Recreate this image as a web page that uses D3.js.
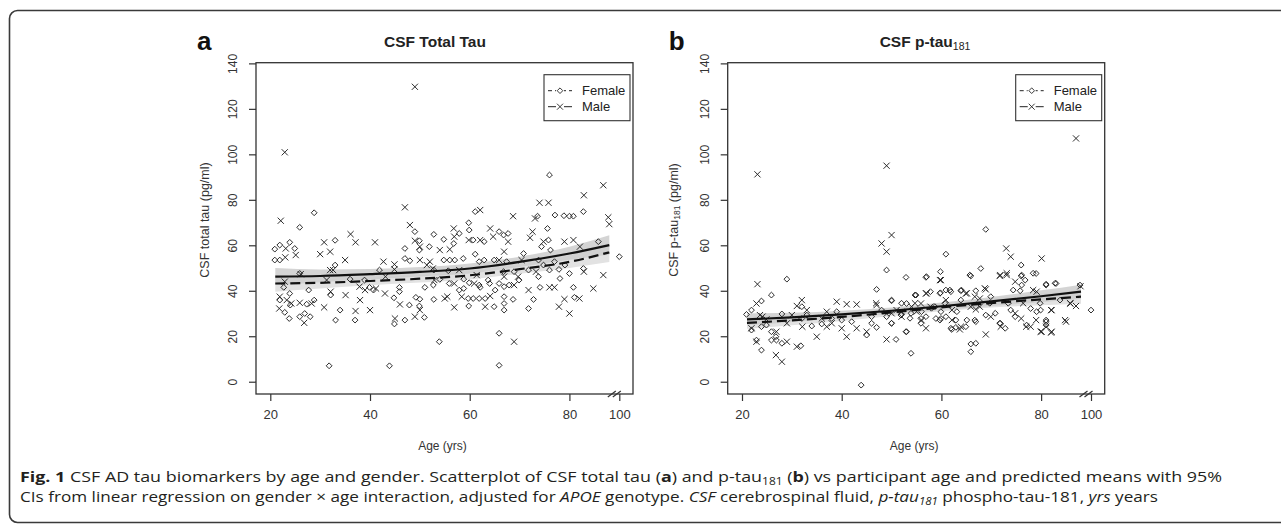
<!DOCTYPE html>
<html>
<head>
<meta charset="utf-8">
<script src="https://cdn.jsdelivr.net/npm/d3@7"></script>
<style>
body { margin: 0; background: #fff; }
svg { display: block; font-family: "Liberation Sans", Arial, sans-serif; }
</style>
</head>
<body>
<svg width="1281" height="525"></svg>
<script>
const ageTicks = [20, 40, 60, 80, 100];
const valueTicks = [0, 20, 40, 60, 80, 100, 120, 140];
const sexLabels = ["Female", "Male"];

// [age, value]
const totalTauFemale = [[20.9,58.3],[20.9,53.5],[21.9,60.1],[21.9,53.5],[23.9,61.3],[24.9,58.6],[25.9,67.9],[22.7,41.5],[21.9,35.9],[22.9,30.5],[23.8,27.8],[23.9,38.8],[24.0,33.7],[25.9,28.6],[25.9,47.6],[26.9,30],[27.3,34.1],[28.0,28.6],[27.7,40.3],[28.8,74.3],[28.8,35.9],[31.8,7.0],[32.1,38.1],[33.0,62.2],[33.0,51.3],[33.1,27.1],[34.0,31.5],[36.0,45.1],[37.0,27.1],[38.9,44.7],[39.9,41.5],[40.7,40.3],[41.9,49.1],[43.9,7.0],[44.8,36.9],[44.9,25.4],[45.9,41.5],[45.9,39.6],[47.0,58.6],[47.0,54.2],[47.0,27.1],[48.0,53.2],[47.9,33.7],[49.0,66.0],[49.2,37.1],[49.9,62.0],[49.9,57.9],[50.0,36.3],[49.9,33.3],[50.9,28.3],[51.0,41.5],[51.9,59.4],[52.8,64.8],[52.8,49.1],[52.8,36.2],[52.7,42.5],[53.9,17.6],[54.0,45.0],[54.8,62.6],[54.8,53.5],[55.7,48.8],[55.9,43.2],[56.0,53.5],[56.8,60.8],[57.0,53.5],[57.9,65.2],[57.9,40.3],[58.7,54.2],[58.8,45.1],[58.8,41.0],[59.8,69.9],[59.9,66.7],[59.7,36.6],[59.8,33.3],[59.9,43.5],[60.7,62.3],[60.7,36.6],[61.1,74.8],[61.1,56.1],[61.9,52.8],[61.9,42.5],[62.1,41.5],[61.9,36.6],[62.9,61.6],[62.9,53.5],[63.1,36.6],[63.7,44.7],[64.0,43.2],[64.9,33.0],[64.9,53.5],[65.1,40.3],[65.9,66.0],[65.9,21.3],[65.9,7.2],[65.9,43.2],[66.8,64.5],[66.8,48.4],[66.9,41.8],[66.9,37.4],[66.9,34.4],[66.9,31.5],[67.4,52.8],[67.7,65.2],[67.9,42.5],[68.7,36.2],[68.9,48.4],[69.9,44.7],[70.8,56.4],[71.8,32.2],[71.8,49.1],[72.8,36.2],[73.6,72.8],[73.8,53.5],[74.1,41.5],[73.8,46.2],[74.4,59.4],[74.8,51.3],[75.6,67.4],[75.8,62.3],[76.0,49.1],[76.2,57.9],[77.1,73.3],[77.0,52.8],[78.1,45.4],[77.9,49.4],[78.9,73.0],[79.1,51.3],[80.0,72.8],[80.0,47.6],[80.8,72.8],[80.8,41.5],[81.0,37.1],[82.8,74.8],[82.8,49.8],[85.8,61.6],[100,55.0],[76.0,90.9]];
const totalTauMale = [[22.1,70.8],[23.1,58.6],[23.0,54.7],[25.1,55.7],[22.9,44],[21.9,37.4],[21.8,32.2],[23.3,35.9],[24.2,34.4],[25.9,34.7],[26.1,47.3],[26.8,25.9],[28.3,34.4],[30.0,56.1],[30.8,61.3],[30.8,32.7],[32.0,57.2],[32.0,49.1],[32.1,39.6],[31.3,44.7],[32.6,49.1],[35.0,53.5],[35.1,38.1],[36.1,64.9],[37.1,61.3],[37.1,31.1],[38.0,35.9],[37.9,41.8],[39.0,40.3],[40.0,31.5],[41.0,61.3],[41.2,41.0],[42.7,52.8],[43.0,38.8],[43.1,46.2],[44.9,51.6],[44.9,49.4],[45.0,27.8],[46.0,34.0],[47.0,76.7],[48.0,68.9],[49.0,62.0],[49.0,28.6],[50.0,59.4],[50.0,53.5],[50.0,31.5],[51.4,51.3],[52.0,52.8],[52.6,49.8],[52.9,44.7],[54.0,57.9],[55.0,36.6],[55.5,37.4],[56.0,58.2],[56.8,67.4],[56.9,43.2],[56.9,32.7],[56.9,63.8],[57.9,49.1],[58.4,37.4],[59.8,62.3],[60.9,43.2],[62.1,75.5],[61.4,46.9],[62.1,62.3],[63.1,33.0],[64.1,67.4],[64.1,37.7],[64.7,63.8],[65.9,53.5],[66.9,57.2],[66.9,46.2],[67.7,61.6],[68.7,72.8],[68.9,42.5],[68.9,17.6],[69.7,46.2],[70.4,53.5],[71.8,40.3],[72.1,63.3],[72.6,66.0],[73.1,71.8],[73.3,48.4],[74.0,78.7],[74.8,61.6],[75.8,78.7],[76.0,41.5],[77.0,41.5],[77.9,33.0],[79.0,61.6],[79.0,36.3],[80.0,30.0],[80.8,62.3],[82.0,36.6],[82.1,59.4],[82.9,48.4],[84.8,41.0],[86.8,46.9],[87.8,72.3],[88.0,69.3],[22.9,100.9],[49.0,129.7],[86.8,86.4],[82.9,82.0]];

// [age, value]
const ptauFemale = [[20.9,29.6],[21.9,31.5],[21.9,22.7],[22.9,18.3],[23.9,35.5],[23.9,13.9],[23.9,24.2],[24.9,24.9],[25.9,38.1],[25.9,22.0],[25.9,18.3],[26.8,19.8],[26.9,18.3],[28.0,16.9],[28.0,29.8],[29.0,45.1],[31.8,15.8],[32.0,33.0],[32.0,27.8],[33.0,29.3],[34.0,24.5],[36.0,25.4],[38.0,27.8],[39.0,30.8],[40.0,27.1],[42.0,26.4],[43.9,-1.5],[45.0,20.5],[46.0,25.7],[46.0,28.6],[47.0,40.6],[47.0,23.9],[48.0,31.5],[49.0,49.1],[49.0,28.6],[50.0,35.9],[50.0,25.7],[50.9,18.6],[51.9,29.3],[52.9,45.9],[52.9,22.0],[53.0,34.4],[53.9,12.5],[53.9,30.1],[54.9,38.1],[55.9,25.7],[55.9,27.8],[56.9,45.9],[56.9,28.6],[57.8,39.6],[58.7,33.0],[58.9,27.8],[59.8,48.4],[59.8,39.1],[59.9,27.8],[59.9,30.8],[60.9,56.1],[60.9,40.3],[60.9,28.6],[61.9,39.6],[61.9,23.5],[62.9,27.1],[62.9,23.9],[63.9,40.0],[63.9,35.9],[64.9,24.2],[65.9,46.5],[65.9,16.6],[65.9,13.2],[66.9,16.9],[66.9,40.0],[66.9,26.4],[67.9,49.8],[68.9,67.0],[68.9,29.3],[69.9,37.4],[71.7,25.7],[72.8,23.5],[73.9,31.5],[74.8,28.6],[75.8,40.0],[76.0,51.3],[76.0,46.5],[76.8,44.7],[77.9,32.2],[79.0,47.6],[79.9,31.5],[81.0,42.9],[81.0,26.4],[83.0,43.2],[100,31.5],
    [50.0,35.6],[50.0,25.7],[52.0,34.5],[53.0,22.0],[53.7,27.9],[54.7,38.1],[56.0,30.8],[57.0,46.2],[58.0,32.3],[59.7,38.9],[59.7,27.1],[60.7,34.5],[61.7,40.3],[62.1,23.0],[63.1,30.8],[64.0,40.3],[65.1,27.1],[65.7,46.9],[66.7,27.1],[69.7,34.5],[70.8,30.1],[71.8,25.7],[73.4,34.5],[74.4,40.3],[76.1,46.9],[76.1,42.5],[77.1,24.9],[78.4,47.7],[79.1,30.8],[79.8,34.5],[81.0,42.5],[81.0,27.1],[81.0,24.9],[82.8,43.3],[83.8,35.9],[87.8,42.5]];
const ptauMale = [[23.1,42.9],[21.9,23.5],[22.9,34.4],[22.9,17.6],[24.1,28.6],[23.6,29.3],[24.9,27.4],[26.8,11.7],[26.9,22.0],[28.0,8.8],[29.0,25.7],[29.0,17.6],[30.0,29.3],[31.0,15.4],[31.0,33.3],[32.0,35.9],[32.1,24.2],[33.0,31.5],[35.0,19.8],[36.0,27.8],[37.0,24.2],[37.0,30.8],[38.0,25.7],[39.0,35.2],[40.0,23.5],[41.0,34.1],[41.0,19.8],[43.0,34.0],[43.0,23.5],[45.0,22.0],[47.0,33.7],[48.0,60.8],[49.0,57.2],[49.0,18.6],[50.0,64.5],[50.0,30.1],[51.0,31.5],[52.0,30.8],[54.0,33.0],[55.0,30.8],[55.9,34.4],[56.9,38.8],[56.9,23.5],[57.8,33.0],[59.9,44.7],[60.9,35.9],[62.1,31.5],[63.9,24.2],[64.9,38.8],[65.9,33.0],[66.9,31.8],[67.7,36.6],[68.9,40.6],[68.9,20.8],[69.9,28.6],[71.7,46.5],[71.9,24.2],[73.0,58.6],[73.1,46.9],[73.9,55.0],[74.8,44.0],[76.0,27.8],[77.0,24.2],[77.9,24.2],[79.0,27.1],[79.1,39.6],[80.1,54.2],[79.9,22.0],[81.0,24.2],[82.0,21.6],[82.0,31.5],[85.0,26.4],[85.9,34.4],[87.0,33.3],[87.9,42.0],[23.1,91.2],[49.0,95.0],[87.0,107.0],
    [46.9,34.5],[52.0,28.6],[54.7,34.5],[56.0,27.1],[57.0,38.9],[59.7,44.7],[62.1,27.1],[63.7,23.0],[65.1,38.9],[66.7,37.4],[67.7,33.0],[68.7,41.1],[71.8,46.9],[73.1,47.7],[74.8,30.1],[76.4,34.5],[78.4,40.3],[80.1,22.0],[82.1,31.5],[82.1,22.0],[84.8,27.1],[85.8,34.5]];

// predicted means and 95% CI
const fitAges = [21, 30, 40, 50, 60, 70, 80, 88];
const totalTauFitMale = [46.2, 46.5, 47.3, 48.3, 49.8, 52.7, 56.4, 60.1];
const totalTauLoMale  = [42.5, 43.8, 45.0, 46.3, 47.6, 50.5, 53.6, 56.0];
const totalTauHiMale  = [50.0, 49.4, 49.6, 50.4, 52.0, 55.0, 59.4, 64.4];
const totalTauFitFemale = [43.2, 43.5, 44.3, 45.3, 46.8, 49.5, 52.7, 56.9];
const totalTauLoFemale  = [39.6, 41.0, 42.4, 43.6, 45.0, 47.5, 50.0, 52.6];
const totalTauHiFemale  = [46.8, 46.1, 46.2, 47.0, 48.7, 51.6, 55.5, 61.2];
const ptauFitMale = [27.4, 28.3, 29.6, 31.2, 33.2, 35.3, 37.6, 39.6];
const ptauLoMale  = [24.8, 26.3, 28.0, 29.8, 31.6, 33.3, 35.0, 36.5];
const ptauHiMale  = [30.0, 30.3, 31.2, 32.6, 34.8, 37.3, 40.2, 42.7];
const ptauFitFemale = [25.9, 27.0, 28.5, 30.5, 32.7, 34.6, 36.2, 37.4];
const ptauLoFemale  = [23.3, 24.8, 26.7, 28.9, 31.0, 32.6, 33.6, 34.3];
const ptauHiFemale  = [28.5, 29.2, 30.3, 32.1, 34.4, 36.6, 38.8, 40.5];

const svg = d3.select("svg");

// outer frame of the figure card
svg.append("rect")
    .attr("x", 9.5).attr("y", 10.5)
    .attr("width", 1320).attr("height", 512)
    .attr("rx", 8)
    .attr("fill", "none")
    .attr("stroke", "#3a3a3a")
    .attr("stroke-width", 1.6);

drawPanel({
    dx: 0, letter: "a", title: ["CSF Total Tau", ""],
    ytitle: ["CSF total tau ", "", "(pg/ml)"],
    female: totalTauFemale, male: totalTauMale,
    fitF: totalTauFitFemale, loF: totalTauLoFemale, hiF: totalTauHiFemale,
    fitM: totalTauFitMale, loM: totalTauLoMale, hiM: totalTauHiMale,
    titleX: 435
});
drawPanel({
    dx: 471.7, letter: "b", title: ["CSF p-tau", "181"],
    ytitle: ["CSF p-tau", "181", " (pg/ml)"],
    female: ptauFemale, male: ptauMale,
    fitF: ptauFitFemale, loF: ptauLoFemale, hiF: ptauHiFemale,
    fitM: ptauFitMale, loM: ptauLoMale, hiM: ptauHiMale,
    titleX: 925
});
drawCaption();

function drawPanel(p) {
    const left = 256 + p.dx, right = 633 + p.dx, top = 62.7, bottom = 394;

    // broken axis: 100 sits just past the break
    const x = d3.scaleLinear()
        .domain([20, 88, 100])
        .range([270.3 + p.dx, 609.3 + p.dx, 619.3 + p.dx]);
    const y = d3.scaleLinear()
        .domain([-5.4, 140.3])
        .range([bottom, top]);

    const g = svg.append("g");

    // CI bands
    const band = (lo, hi) => d3.area()
        .x((d, i) => x(fitAges[i]))
        .y0((d, i) => y(lo[i]))
        .y1((d, i) => y(hi[i]))
        .curve(d3.curveMonotoneX)(fitAges);
    g.append("path").attr("d", band(p.loF, p.hiF)).attr("fill", "#e2e2e2");
    g.append("path").attr("d", band(p.loM, p.hiM)).attr("fill", "#cdcdcd").attr("opacity", 0.85);

    // points
    g.selectAll(".f").data(p.female).enter().append("path")
        .attr("class", "f")
        .attr("d", d => diamond(x(d[0]), y(d[1]), 2.9))
        .attr("fill", "none").attr("stroke", "#222").attr("stroke-width", 0.95);
    g.selectAll(".m").data(p.male).enter().append("path")
        .attr("class", "m")
        .attr("d", d => cross(x(d[0]), y(d[1]), 3.1))
        .attr("fill", "none").attr("stroke", "#222").attr("stroke-width", 0.95);

    // fitted lines
    const fit = vals => d3.line()
        .x((d, i) => x(fitAges[i]))
        .y((d, i) => y(vals[i]))
        .curve(d3.curveMonotoneX)(fitAges);
    g.append("path").attr("d", fit(p.fitF))
        .attr("fill", "none").attr("stroke", "#111").attr("stroke-width", 2.2)
        .attr("stroke-dasharray", "10,5");
    g.append("path").attr("d", fit(p.fitM))
        .attr("fill", "none").attr("stroke", "#111").attr("stroke-width", 2.2);

    // box
    g.append("rect")
        .attr("x", left).attr("y", top)
        .attr("width", right - left).attr("height", bottom - top)
        .attr("fill", "none").attr("stroke", "#333").attr("stroke-width", 1.3);

    // y axis
    const yAxis = g.append("g")
        .attr("transform", "translate(" + left + ",0)")
        .call(d3.axisLeft(y).tickValues(valueTicks).tickSize(7).tickPadding(0).tickFormat(d3.format("d")));
    yAxis.select(".domain").remove();
    yAxis.selectAll("line").attr("stroke", "#333").attr("stroke-width", 1.2);
    yAxis.selectAll("text")
        .attr("x", null)
        .attr("text-anchor", "middle")
        .attr("transform", "translate(-23,0) rotate(-90)")
        .attr("dy", "0.35em")
        .attr("fill", "#333")
        .style("font-size", "12px")
        .style("font-family", "'Liberation Sans', Arial, sans-serif");

    // x axis
    const xAxis = g.append("g")
        .attr("transform", "translate(0," + bottom + ")")
        .call(d3.axisBottom(x).tickValues(ageTicks).tickSize(7).tickPadding(9));
    xAxis.select(".domain").remove();
    xAxis.selectAll("line").attr("stroke", "#333").attr("stroke-width", 1.2);
    xAxis.selectAll("text")
        .attr("fill", "#333")
        .style("font-size", "13px")
        .style("font-family", "'Liberation Sans', Arial, sans-serif");

    // axis break marks
    const bx = (x(88) + x(100)) / 2;
    [-2.5, 2.5].forEach(o => {
        g.append("line")
            .attr("x1", bx + o - 4).attr("y1", bottom + 3)
            .attr("x2", bx + o + 4).attr("y2", bottom - 3)
            .attr("stroke", "#333").attr("stroke-width", 1.2);
    });

    // axis titles
    g.append("text")
        .attr("x", (left + right) / 2 - 2).attr("y", 450)
        .attr("text-anchor", "middle")
        .attr("fill", "#333")
        .style("font-size", "12px")
        .text("Age (yrs)");

    const yt = g.append("text")
        .attr("transform", "translate(" + (205 + p.dx - (p.dx ? 2.7 : 0)) + ",220) rotate(-90)")
        .attr("text-anchor", "middle")
        .attr("dy", "0.35em")
        .attr("fill", "#333")
        .style("font-size", "12.5px");
    yt.append("tspan").text(p.ytitle[0]);
    if (p.ytitle[1]) yt.append("tspan").style("font-size", "8.5px").attr("dy", "1.5").text(p.ytitle[1]);
    yt.append("tspan").attr("dy", p.ytitle[1] ? "-1.5" : null).text(p.ytitle[2]);

    // panel title
    const tt = g.append("text")
        .attr("x", p.titleX).attr("y", 47)
        .attr("text-anchor", "middle")
        .attr("fill", "#222")
        .style("font-size", "15.5px")
        .style("font-weight", "bold");
    tt.append("tspan").text(p.title[0]);
    if (p.title[1]) tt.append("tspan").attr("dy", "3").style("font-size", "10.5px").style("font-weight", "normal").text(p.title[1]);

    // panel letter
    g.append("text")
        .attr("x", left - 59).attr("y", 50)
        .attr("fill", "#111")
        .style("font-size", "26px")
        .style("font-weight", "bold")
        .text(p.letter);

    // legend
    const lx = right - 89, ly = top + 12;
    const lg = g.append("g").attr("transform", "translate(" + lx + "," + ly + ")");
    lg.append("rect").attr("width", 86).attr("height", 46)
        .attr("fill", "#fff").attr("stroke", "#333").attr("stroke-width", 1.1);
    sexLabels.forEach((s, i) => {
        const cy = 16 + i * 16;
        lg.append("line").attr("x1", 4).attr("x2", 28).attr("y1", cy).attr("y2", cy)
            .attr("stroke", "#222").attr("stroke-width", 1)
            .attr("stroke-dasharray", i === 0 ? "4,3" : null);
        lg.append("rect").attr("x", 12).attr("y", cy - 3.5).attr("width", 8).attr("height", 7).attr("fill", "#fff");
        lg.append("path")
            .attr("d", i === 0 ? diamond(16, cy, 2.8) : cross(16, cy, 3))
            .attr("fill", "none").attr("stroke", "#222").attr("stroke-width", 0.9);
        lg.append("text").attr("x", 38).attr("y", cy).attr("dy", "0.35em")
            .attr("fill", "#222").style("font-size", "13px").text(s);
    });
}

function diamond(cx, cy, r) {
    return "M" + cx + "," + (cy - r) + "L" + (cx + r) + "," + cy + "L" + cx + "," + (cy + r) + "L" + (cx - r) + "," + cy + "Z";
}
function cross(cx, cy, r) {
    return "M" + (cx - r) + "," + (cy - r) + "L" + (cx + r) + "," + (cy + r) +
           "M" + (cx - r) + "," + (cy + r) + "L" + (cx + r) + "," + (cy - r);
}

function drawCaption() {
    const font = "'Open Sans', 'Noto Sans', sans-serif";
    const l1 = svg.append("text")
        .attr("x", 20).attr("y", 482)
        .attr("textLength", 1202).attr("lengthAdjust", "spacingAndGlyphs")
        .attr("fill", "#231f20")
        .style("font-family", font).style("font-size", "15px");
    l1.append("tspan").style("font-weight", "bold").text("Fig. 1");
    l1.append("tspan").text(" CSF AD tau biomarkers by age and gender. Scatterplot of CSF total tau (");
    l1.append("tspan").style("font-weight", "bold").text("a");
    l1.append("tspan").text(") and p-tau");
    l1.append("tspan").attr("dy", 3).style("font-size", "10px").text("181");
    l1.append("tspan").attr("dy", -3).text(" (");
    l1.append("tspan").style("font-weight", "bold").text("b");
    l1.append("tspan").text(") vs participant age and predicted means with 95%");

    const l2 = svg.append("text")
        .attr("x", 20).attr("y", 502)
        .attr("textLength", 1138).attr("lengthAdjust", "spacingAndGlyphs")
        .attr("fill", "#231f20")
        .style("font-family", font).style("font-size", "15px");
    l2.append("tspan").text("CIs from linear regression on gender \u00d7 age interaction, adjusted for ");
    l2.append("tspan").style("font-style", "italic").text("APOE");
    l2.append("tspan").text(" genotype. ");
    l2.append("tspan").style("font-style", "italic").text("CSF");
    l2.append("tspan").text(" cerebrospinal fluid, ");
    l2.append("tspan").style("font-style", "italic").text("p-tau");
    l2.append("tspan").attr("dy", 3).style("font-style", "italic").style("font-size", "10px").text("181");
    l2.append("tspan").attr("dy", -3).text(" phospho-tau-181, ");
    l2.append("tspan").style("font-style", "italic").text("yrs");
    l2.append("tspan").text(" years");
}
</script>
</body>
</html>
